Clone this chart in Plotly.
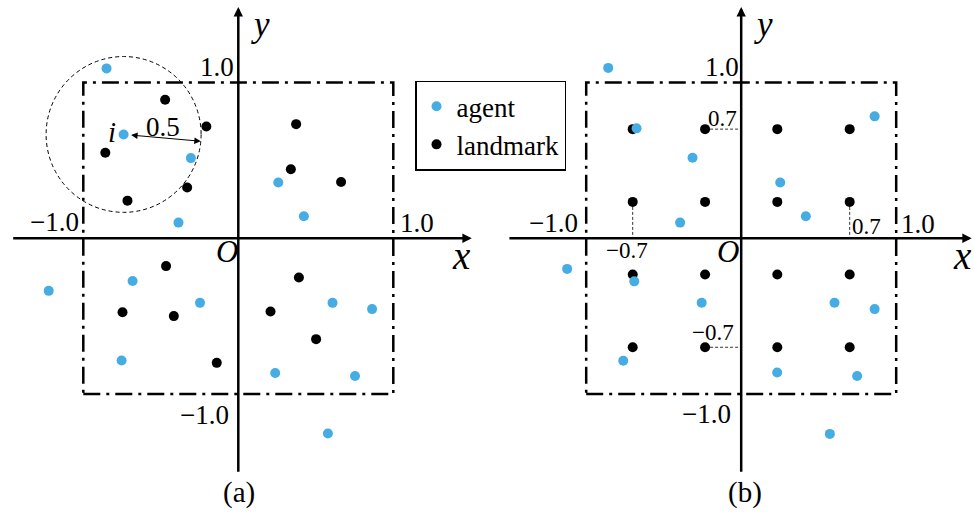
import math
import plotly.graph_objects as go

# ---------------- data ----------------
# panel (a): random agent / landmark positions
a_agent_x = [-0.85, -0.74, -0.306, -0.386, 0.258, 0.423, -0.682, -1.223, -0.247, -0.753, 0.608, 0.863, 0.238, 0.753, 0.578]
a_agent_y = [1.09, 0.666, 0.514, 0.10, 0.357, 0.141, -0.275, -0.338, -0.415, -0.785, -0.415, -0.455, -0.865, -0.884, -1.253]
a_land_x = [-0.472, -0.206, -0.858, -0.330, -0.715, 0.373, 0.339, 0.663, -0.466, -0.747, -0.416, -0.139, 0.391, 0.208, 0.502]
a_land_y = [0.889, 0.717, 0.548, 0.325, 0.241, 0.732, 0.443, 0.361, -0.179, -0.475, -0.50, -0.80, -0.252, -0.47, -0.648]

# panel (b): agents and fixed landmark grid
b_agent_x = [-0.858, -0.675, -0.314, -0.394, 0.861, 0.252, 0.417, -1.123, -0.69, -0.255, -0.761, 0.602, 0.861, 0.232, 0.748, 0.572]
b_agent_y = [1.093, 0.705, 0.516, 0.10, 0.782, 0.357, 0.141, -0.197, -0.277, -0.414, -0.787, -0.414, -0.455, -0.862, -0.884, -1.256]
b_land_x = [-0.7, -0.233, 0.233, 0.7, -0.7, -0.233, 0.233, 0.7, -0.7, -0.233, 0.233, 0.7, -0.7, -0.233, 0.233, 0.7]
b_land_y = [0.7, 0.7, 0.7, 0.7, 0.233, 0.233, 0.233, 0.233, -0.233, -0.233, -0.233, -0.233, -0.7, -0.7, -0.7, -0.7]

square_half = 1.0            # boundary of the arena
obs_radius = 0.5             # observation radius of agent i
agent_i = 1                  # index of agent i in panel (a)
tick_text = ["1.0", "\u22121.0"]
grid_text = ["0.7", "\u22120.7"]
legend_names = ["agent", "landmark"]
panel_names = ["(a)", "(b)"]

# ---------------- style ----------------
BLUE = "#45ADE3"
BLACK = "#000000"
FONT = "Liberation Serif"
MS = 10
TICK_FS = 27

fig = go.Figure()

panels = [("x", "y", a_agent_x, a_agent_y, a_land_x, a_land_y, True),
          ("x2", "y2", b_agent_x, b_agent_y, b_land_x, b_land_y, False)]

for xa, ya, ax_, ay_, lx, ly, show in panels:
    fig.add_trace(go.Scatter(x=lx, y=ly, mode="markers", xaxis=xa, yaxis=ya,
                             name=legend_names[1], showlegend=show, legendrank=2,
                             marker=dict(color=BLACK, size=MS, line=dict(width=0))))
    fig.add_trace(go.Scatter(x=ax_, y=ay_, mode="markers", xaxis=xa, yaxis=ya,
                             name=legend_names[0], showlegend=show, legendrank=1,
                             marker=dict(color=BLUE, size=MS, line=dict(width=0))))

shapes = []
annotations = []


def txt(xr, yr, x, y, text, size, italic=False):
    t = f"<i>{text}</i>" if italic else text
    annotations.append(dict(xref=xr, yref=yr, x=x, y=y, text=t, showarrow=False,
                            xanchor="center", yanchor="middle",
                            font=dict(family=FONT, size=size, color=BLACK)))


def arrow(xr, yr, x0, y0, x1, y1):
    annotations.append(dict(xref=xr, yref=yr, axref=xr, ayref=yr, x=x1, y=y1, ax=x0, ay=y0,
                            text="", showarrow=True, arrowhead=2, arrowsize=0.75,
                            arrowwidth=2.5, arrowcolor=BLACK, standoff=0))


axis_ext = {"x": (-1.462, 1.506), "x2": (-1.505, 1.487)}
for xa, ya in [("x", "y"), ("x2", "y2")]:
    # dash-dot boundary square
    shapes.append(dict(type="rect", xref=xa, yref=ya, x0=-square_half, x1=square_half,
                       y0=-square_half, y1=square_half, layer="below",
                       line=dict(color=BLACK, width=2.5, dash="17px,6px,3px,6px")))
    # coordinate axes with arrows
    xe = axis_ext[xa]
    arrow(xa, ya, xe[0], 0, xe[1], 0)
    arrow(xa, ya, 0, -1.509, 0, 1.484)

# ---- panel (a) text ----
txt("x", "y", -0.139, 1.096, tick_text[0], TICK_FS)
txt("x", "y", -1.189, 0.106, tick_text[1], TICK_FS)
txt("x", "y", 1.151, 0.096, tick_text[0], TICK_FS)
txt("x", "y", -0.215, -1.135, tick_text[1], TICK_FS)
txt("x", "y", -0.073, -0.085, "O", 31, italic=True)
txt("x", "y", 1.437, -0.114, "x", 39, italic=True)
txt("x", "y", 0.146, 1.372, "y", 35, italic=True)
txt("x", "y", 0.005, -1.629, panel_names[0], 29)

# observation circle around agent i
cx, cy = a_agent_x[agent_i], a_agent_y[agent_i]
shapes.append(dict(type="circle", xref="x", yref="y", x0=cx - obs_radius, x1=cx + obs_radius,
                   y0=cy - obs_radius, y1=cy + obs_radius, layer="below",
                   line=dict(color=BLACK, width=1, dash="4px,3px")))
ang = math.radians(-5)
ex, ey = cx + obs_radius * math.cos(ang), cy + obs_radius * math.sin(ang)
annotations.append(dict(xref="x", yref="y", axref="x", ayref="y", x=ex, y=ey, ax=cx, ay=cy,
                        text="", showarrow=True, arrowside="end+start",
                        arrowhead=2, startarrowhead=2, arrowsize=1.3, startarrowsize=1.3,
                        arrowwidth=1, arrowcolor=BLACK, standoff=0, startstandoff=6))
txt("x", "y", cx - 0.077, cy + 0.018, "i", 29, italic=True)
txt("x", "y", cx + 0.251, cy + 0.05, f"{obs_radius}", TICK_FS)

# ---- panel (b) text ----
txt("x2", "y2", -0.121, 1.096, tick_text[0], TICK_FS)
txt("x2", "y2", -1.208, 0.098, tick_text[1], TICK_FS)
txt("x2", "y2", 1.141, 0.091, tick_text[0], TICK_FS)
txt("x2", "y2", -0.223, -1.128, tick_text[1], TICK_FS)
txt("x2", "y2", -0.085, -0.085, "O", 31, italic=True)
txt("x2", "y2", 1.425, -0.114, "x", 39, italic=True)
txt("x2", "y2", 0.141, 1.372, "y", 35, italic=True)
txt("x2", "y2", 0.025, -1.629, panel_names[1], 29)

# guide lines from grid landmarks to the axes
g_hi, g_lo = b_land_x[3], b_land_x[2]
guides = [(-g_lo, g_hi, 0, g_hi), (-g_hi, g_lo, -g_hi, 0), (g_hi, g_lo, g_hi, 0), (-g_lo, -g_hi, 0, -g_hi)]
for x0, y0, x1, y1 in guides:
    shapes.append(dict(type="line", xref="x2", yref="y2", x0=x0, y0=y0, x1=x1, y1=y1, layer="below",
                       line=dict(color="#333333", width=1, dash="3px,2px")))
txt("x2", "y2", -0.121, 0.768, grid_text[0], 23)
txt("x2", "y2", -0.74, -0.079, grid_text[1], 23)
txt("x2", "y2", 0.81, 0.075, grid_text[0], 23)
txt("x2", "y2", -0.185, -0.605, grid_text[1], 23)

yr = [-1.7638, 1.5289]
fig.update_layout(
    width=974, height=513, margin=dict(l=0, r=0, t=0, b=0, pad=0),
    paper_bgcolor="white", plot_bgcolor="white",
    xaxis=dict(domain=[0, 0.5], range=[-1.5374, 1.6045], visible=False, anchor="y"),
    yaxis=dict(domain=[0, 1], range=yr, visible=False, anchor="x"),
    xaxis2=dict(domain=[0.5, 1], range=[-1.64, 1.502], visible=False, anchor="y2"),
    yaxis2=dict(domain=[0, 1], range=yr, visible=False, anchor="x2"),
    shapes=shapes, annotations=annotations,
    showlegend=True,
    legend=dict(x=415 / 974, y=1 - 80.7 / 513, xanchor="left", yanchor="top",
                bgcolor="white", bordercolor=BLACK, borderwidth=1.5,
                font=dict(family=FONT, size=27, color=BLACK)),
)

fig.write_html("out.html")
